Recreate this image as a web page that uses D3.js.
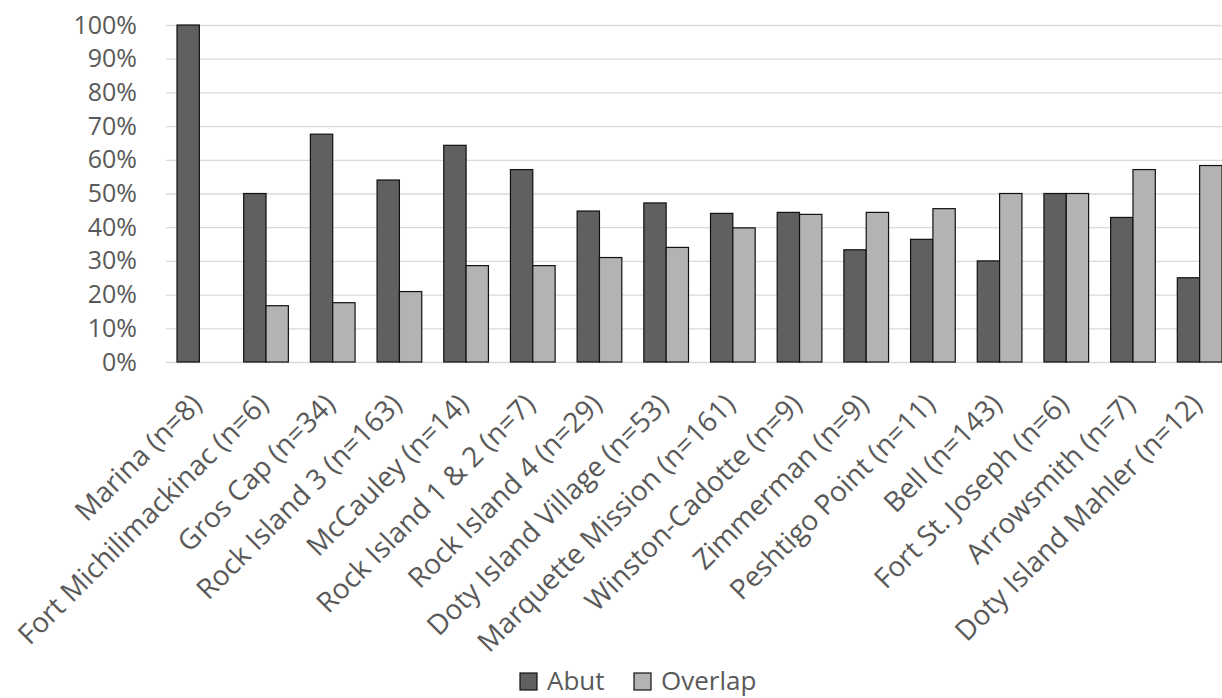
<!DOCTYPE html>
<html>
<head>
<meta charset="utf-8">
<script src="https://cdn.jsdelivr.net/npm/d3@7"></script>
<style>
  html, body { margin: 0; padding: 0; background: #fff; overflow: hidden; }
  svg { display: block; font-family: "Open Sans", sans-serif; }
</style>
</head>
<body>
<svg id="chart" width="1222" height="698"></svg>
<script>
// Sites (with sample sizes) and share of pairs that abut or overlap, in percent
const categories = [
  "Marina (n=8)", "Fort Michilimackinac (n=6)", "Gros Cap (n=34)", "Rock Island 3 (n=163)",
  "McCauley (n=14)", "Rock Island 1 & 2 (n=7)", "Rock Island 4 (n=29)", "Doty Island Village (n=53)",
  "Marquette Mission (n=161)", "Winston-Cadotte (n=9)", "Zimmerman (n=9)", "Peshtigo Point (n=11)",
  "Bell (n=143)", "Fort St. Joseph (n=6)", "Arrowsmith (n=7)", "Doty Island Mahler (n=12)"
];
const abut =    [100, 50, 67.6, 54.0, 64.3, 57.1, 44.8, 47.2, 44.1, 44.4, 33.3, 36.4, 30.0, 50, 42.9, 25.0];
const overlap = [0, 16.7, 17.6, 20.9, 28.6, 28.6, 31.0, 34.0, 39.8, 43.8, 44.4, 45.5, 50.0, 50, 57.1, 58.3];
const seriesNames = ["Abut", "Overlap"];
const yTicks = [0, 10, 20, 30, 40, 50, 60, 70, 80, 90, 100];

const colors = { Abut: "#606060", Overlap: "#b3b3b3" };
const textColor = "#595959";

const svg = d3.select("#chart");
const plot = { left: 166, right: 1233, top: 25, bottom: 362 };

const x = d3.scaleBand()
  .domain(categories)
  .range([plot.left, plot.right])
  .paddingInner(0.33)
  .paddingOuter(0.165);

const xSub = d3.scaleBand()
  .domain(seriesNames)
  .range([0, x.bandwidth()]);

const y = d3.scaleLinear().domain([0, 100]).range([plot.bottom, plot.top]);

// Horizontal gridlines
svg.append("g")
  .selectAll("line")
  .data(yTicks)
  .join("line")
  .attr("x1", plot.left)
  .attr("x2", plot.right)
  .attr("y1", d => y(d) + 0.5)
  .attr("y2", d => y(d) + 0.5)
  .attr("stroke", "#d9d9d9")
  .attr("stroke-width", 1.3);

// Y axis labels
const yAxis = d3.axisLeft(y)
  .tickValues(yTicks)
  .tickFormat(d => d + "%")
  .tickSize(0)
  .tickPadding(0);

svg.append("g")
  .attr("transform", `translate(${plot.left - 29},0)`)
  .call(yAxis)
  .call(g => g.select(".domain").remove())
  .call(g => g.selectAll("text")
    .attr("fill", textColor)
    .style("font-size", "25px")
    .style("font-family", "'Open Sans', sans-serif"));

// Bars
const rows = categories.map((c, i) => ({ cat: c, values: [
  { key: "Abut", value: abut[i] },
  { key: "Overlap", value: overlap[i] }
]}));

const groups = svg.append("g")
  .selectAll("g")
  .data(rows)
  .join("g")
  .attr("transform", d => `translate(${x(d.cat)},0)`);

groups.selectAll("rect")
  .data(d => d.values.filter(v => v.value > 0))
  .join("rect")
  .attr("x", d => xSub(d.key))
  .attr("y", d => y(d.value))
  .attr("width", xSub.bandwidth())
  .attr("height", d => y(0) - y(d.value))
  .attr("fill", d => colors[d.key])
  .attr("stroke", "#111")
  .attr("stroke-width", 1.2);

// Category labels, rotated
const xAxis = d3.axisBottom(x).tickSize(0).tickPadding(0);
svg.append("g")
  .attr("transform", `translate(0,${plot.bottom})`)
  .call(xAxis)
  .call(g => g.select(".domain").remove())
  .call(g => g.selectAll("text")
    .attr("fill", textColor)
    .style("font-size", "28px")
    .style("font-family", "'Open Sans', sans-serif")
    .attr("text-anchor", "end")
    .attr("dy", null)
    .attr("y", 0)
    .attr("transform", "translate(4,44) rotate(-45)"));

// Legend
const legend = svg.append("g").attr("transform", "translate(520,673)");
const legendItems = legend.selectAll("g")
  .data(seriesNames)
  .join("g")
  .attr("transform", (d, i) => `translate(${i * 114},0)`);
legendItems.append("rect")
  .attr("width", 17)
  .attr("height", 17)
  .attr("fill", d => colors[d])
  .attr("stroke", "#111")
  .attr("stroke-width", 1.2);
legendItems.append("text")
  .attr("x", 27)
  .attr("y", 17)
  .attr("fill", textColor)
  .style("font-size", "26px")
  .text(d => d);
</script>
</body>
</html>
